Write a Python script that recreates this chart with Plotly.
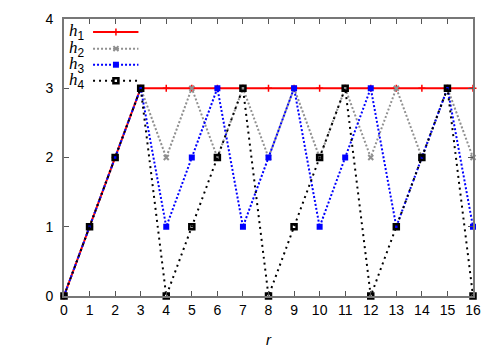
import plotly.graph_objects as go

r = list(range(17))
h1 = [0, 1, 2, 3, 3, 3, 3, 3, 3, 3, 3, 3, 3, 3, 3, 3, 3]
h2 = [0, 1, 2, 3, 2, 3, 2, 3, 2, 3, 2, 3, 2, 3, 2, 3, 2]
h3 = [0, 1, 2, 3, 1, 2, 3, 1, 2, 3, 1, 2, 3, 1, 2, 3, 1]
h4 = [0, 1, 2, 3, 0, 1, 2, 3, 0, 1, 2, 3, 0, 1, 2, 3, 0]
names = ["1", "2", "3", "4"]
xticks = list(range(17))
yticks = [0, 1, 2, 3, 4]

styles = [
    dict(line=dict(color="#ff0000", width=2, dash="solid"),
         marker=dict(symbol="cross-thin", size=5, color="#ff0000", line=dict(color="#ff0000", width=1.5))),
    dict(line=dict(color="#909090", width=2, dash="2px,2px"),
         marker=dict(symbol="x-thin", size=5, color="#909090", line=dict(color="#909090", width=2))),
    dict(line=dict(color="#0000ff", width=2, dash="2px,2px"),
         marker=dict(symbol="square", size=6, color="#0000ff", line=dict(width=0))),
    dict(line=dict(color="#000000", width=2, dash="2px,4px"),
         marker=dict(symbol="square-open", size=5, color="#000000", line=dict(color="#000000", width=2.5))),
]

fig = go.Figure()
for ys, st in zip([h1, h2, h3, h4], styles):
    fig.add_trace(go.Scatter(x=r, y=ys, mode="lines+markers", line=st["line"],
                             marker=st["marker"], showlegend=False, cliponaxis=False))

# custom legend (text left, sample right) on an overlay axis
leg_y = [0.953, 0.893, 0.835, 0.777]
for i, (st, yy) in enumerate(zip(styles, leg_y)):
    fig.add_trace(go.Scatter(x=[0.071, 0.182], y=[yy, yy], mode="lines", line=st["line"],
                             xaxis="x2", yaxis="y2", showlegend=False, hoverinfo="skip"))
    fig.add_trace(go.Scatter(x=[0.127], y=[yy], mode="markers", marker=st["marker"],
                             xaxis="x2", yaxis="y2", showlegend=False, hoverinfo="skip"))
    fig.add_annotation(x=0.008, y=yy, xref="x2", yref="y2", xanchor="left", yanchor="middle",
                       showarrow=False,
                       text="<i>h</i><sub><span style='font-family:Liberation Sans'>" + names[i] + "</span></sub>",
                       font=dict(family="Liberation Serif", size=17, color="black"))

axis_common = dict(showgrid=False, zeroline=False, showline=True, linecolor="#777777", linewidth=2,
                   mirror="allticks", ticks="inside", ticklen=5, tickcolor="#555555", tickwidth=1,
                   automargin=False,
                   tickfont=dict(family="Liberation Sans", size=14, color="black"))

fig.update_layout(
    width=498, height=349,
    margin=dict(l=64, r=25, t=19, b=53),
    plot_bgcolor="white", paper_bgcolor="white",
    xaxis=dict(range=[0, 16], tickvals=xticks, ticktext=[str(v) for v in xticks],
               title=dict(text="<i>r</i>", font=dict(family="Liberation Sans", size=15, color="black"), standoff=18),
               **axis_common),
    yaxis=dict(range=[0, 4], tickvals=yticks, ticktext=[str(v) for v in yticks], ticklabelstandoff=6,
               **axis_common),
    xaxis2=dict(range=[0, 1], overlaying="x", visible=False, fixedrange=True),
    yaxis2=dict(range=[0, 1], overlaying="y", visible=False, fixedrange=True),
)

# remove the browser's default 8px body margin so the figure fills the window exactly
fig.write_html("out.html", config={"displayModeBar": False},
               post_script="document.body.style.margin='0';document.documentElement.style.overflow='hidden';")
